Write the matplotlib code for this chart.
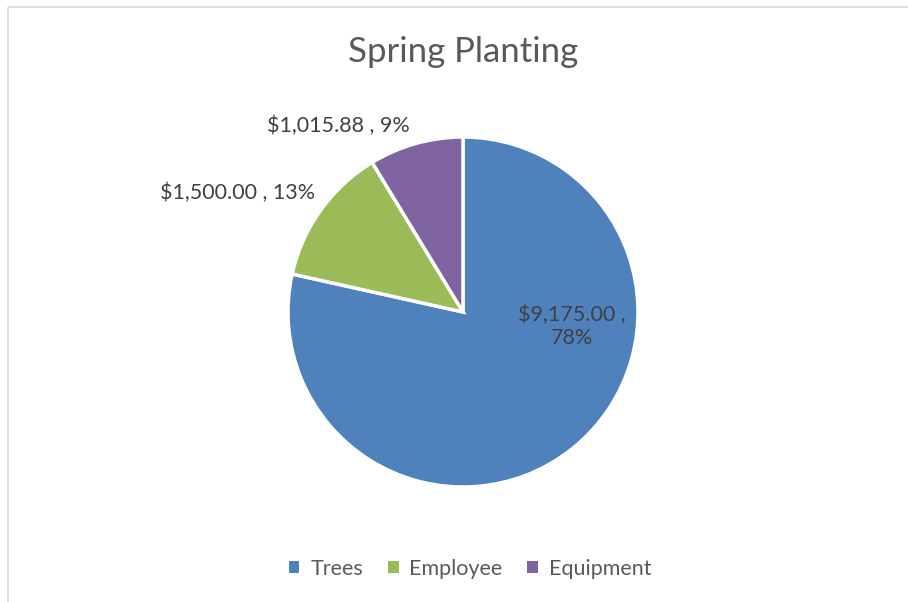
import matplotlib.pyplot as plt
from matplotlib.patches import Patch, Rectangle

plt.rcParams['font.family'] = ['Lato', 'DejaVu Sans']

# Veriler
kategoriler = ['Trees', 'Employee', 'Equipment']
tutarlar = [9175.00, 1500.00, 1015.88]
renkler = ['#4F81BD', '#9BBB59', '#8064A2']

toplam = sum(tutarlar)
etiketler = [f"${v:,.2f} , {round(v / toplam * 100):.0f}%" for v in tutarlar]

fig = plt.figure(figsize=(9.08, 6.02), dpi=100)
ax = fig.add_axes([0, 0, 1, 1])

# Çerçeve (sol ve üst kenar görünüyor)
ax.add_patch(Rectangle((8, 7), 1000, 700, fill=False, edgecolor='#D9D9D9', linewidth=1.2))

# Pasta grafiği (y ekseni ters olduğundan counterclock=True saat yönünde çizer)
ax.pie(tutarlar, colors=renkler, startangle=-90, counterclock=True,
       center=(463, 312), radius=175, frame=True,
       wedgeprops=dict(edgecolor='white', linewidth=2.5))
ax.set_xlim(0, 908)
ax.set_ylim(602, 0)
ax.set_aspect('equal')
ax.axis('off')

yazi_rengi = '#404040'
ax.text(572, 326, etiketler[0].replace(' , ', ' ,\n'), ha='center', va='center',
        fontsize=15.5, color=yazi_rengi, linespacing=1.2)
ax.text(238, 193, etiketler[1], ha='center', va='center', fontsize=15.5, color=yazi_rengi)
ax.text(338, 126, etiketler[2], ha='center', va='center', fontsize=15.5, color=yazi_rengi)

ax.text(463, 52, 'Spring Planting', ha='center', va='center', fontsize=25, color='#595959')

tutamaclar = [Patch(facecolor=r, edgecolor='none') for r in renkler]
fig.legend(tutamaclar, kategoriler, loc='center', bbox_to_anchor=(470 / 908, 1 - 569 / 602),
           ncol=3, frameon=False, fontsize=15.5, handlelength=0.5, handleheight=0.5,
           handletextpad=0.5, columnspacing=1.15, labelcolor='#595959')

plt.savefig('out.png', dpi=100)
